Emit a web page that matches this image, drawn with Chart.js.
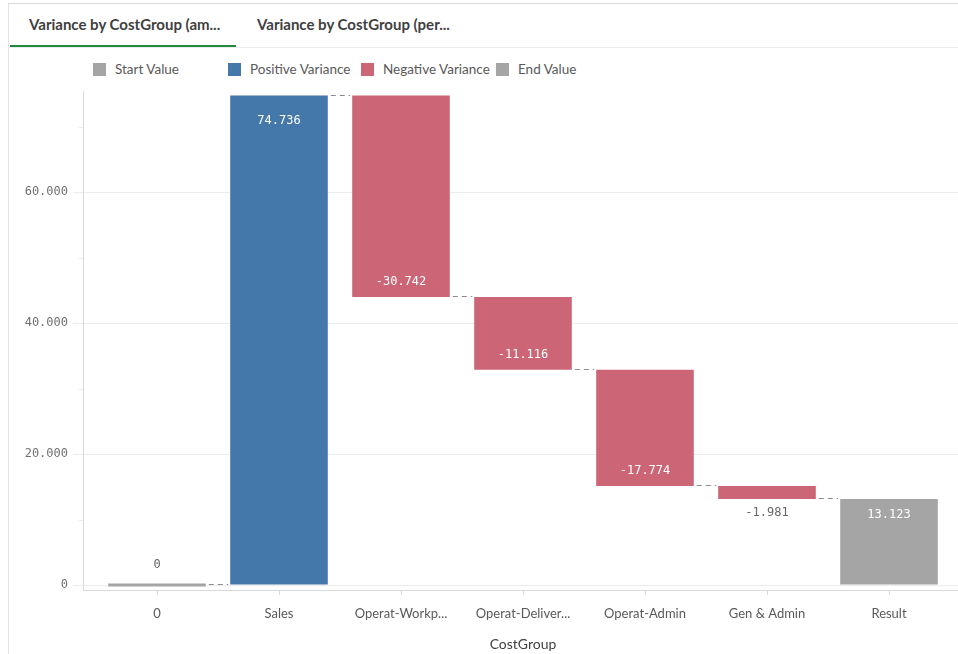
<!DOCTYPE html>
<html>
<head>
<meta charset="utf-8">
<script src="https://cdn.jsdelivr.net/npm/chart.js@4"></script>
<style>
  body { margin: 0; width: 958px; height: 654px; overflow: hidden; background: #fff; font-family: Lato, "Noto Sans", sans-serif; position: relative; }
  #frame { position: absolute; left: 8px; top: 3px; width: 960px; height: 660px; border-left: 1px solid #e2e2e2; border-top: 1px solid #dcdcdc; }
  .tab { position: absolute; top: 15px; font-size: 15px; font-weight: bold; color: #404040; white-space: nowrap; }
  #tabline { position: absolute; left: 8px; top: 47px; width: 950px; height: 1px; background: #ececec; }
  #tabactive { position: absolute; left: 10px; top: 45px; width: 226px; height: 2px; background: #1e8a3e; }
  .leg { position: absolute; top: 61px; font-size: 13.5px; color: #595959; white-space: nowrap; }
  .leg i { display: inline-block; width: 13px; height: 13px; vertical-align: -2px; margin-right: 9px; }
  #wrap { position: absolute; left: 0; top: 79px; width: 958px; height: 575px; }
</style>
</head>
<body>
<div id="frame"></div>
<div class="tab" style="left:29px">Variance by CostGroup (am...</div>
<div class="tab" style="left:257px">Variance by CostGroup (per...</div>
<div id="tabline"></div>
<div id="tabactive"></div>
<div id="legend"></div>
<div id="wrap"><canvas id="waterfall" width="958" height="575"></canvas></div>
<script>
// === Datos ===
const categories = ['0', 'Sales', 'Operat-Workp...', 'Operat-Deliver...', 'Operat-Admin', 'Gen & Admin', 'Result'];
const startValue = 0;
const variances = [74736, -30742, -11116, -17774, -1981];
const endValue = 13123;
const yTicks = [0, 20000, 40000, 60000];
const yMinorTicks = [10000, 30000, 50000, 70000];
const seriesNames = ['Start Value', 'Positive Variance', 'Negative Variance', 'End Value'];
const seriesColors = ['#a5a5a5', '#4477aa', '#cc6677', '#a5a5a5'];
const legendLeft = [93, 228, 361, 496];

// leyenda
document.getElementById('legend').innerHTML = seriesNames.map((n, i) =>
  `<div class="leg" style="left:${legendLeft[i]}px"><i style="background:${seriesColors[i]}"></i>${n}</div>`).join('');

// rangos flotantes del waterfall
const startData = categories.map(() => null);
const posData = categories.map(() => null);
const negData = categories.map(() => null);
const endData = categories.map(() => null);
const labels = [];
const levels = [startValue];
startData[0] = [startValue, startValue];
labels.push(startValue);
let running = startValue;
variances.forEach((v, k) => {
  const i = k + 1;
  const next = running + v;
  if (v >= 0) posData[i] = [running, next]; else negData[i] = [next, running];
  labels.push(v);
  running = next;
  levels.push(running);
});
endData[categories.length - 1] = [0, endValue];
labels.push(endValue);

const fmt = v => v.toLocaleString('de-DE');
const monoFont = '12px "DejaVu Sans Mono", monospace';

const extras = {
  id: 'extras',
  afterDraw(chart) {
    const { ctx, chartArea } = chart;
    const y = chart.scales.y;
    ctx.save();
    // ejes
    ctx.strokeStyle = '#d9d9d9';
    ctx.lineWidth = 1;
    ctx.beginPath();
    ctx.moveTo(83.5, chartArea.top);
    ctx.lineTo(83.5, chartArea.bottom);
    ctx.moveTo(83, chartArea.bottom + 0.5);
    ctx.lineTo(chart.width, chartArea.bottom + 0.5);
    ctx.stroke();
    // ticks menores
    ctx.strokeStyle = '#e0e0e0';
    ctx.beginPath();
    yMinorTicks.forEach(t => {
      const py = Math.round(y.getPixelForValue(t)) + 0.5;
      ctx.moveTo(79, py); ctx.lineTo(83, py);
    });
    // grid hasta el borde
    ctx.strokeStyle = '#ececec';
    yTicks.forEach(t => {
      const py = Math.round(y.getPixelForValue(t)) + 0.5;
      ctx.moveTo(chartArea.right, py); ctx.lineTo(chart.width, py);
    });
    ctx.stroke();

    // barras por categoria
    const bars = categories.map((c, i) => {
      for (let d = 0; d < chart.data.datasets.length; d++) {
        if (chart.data.datasets[d].data[i] !== null) return chart.getDatasetMeta(d).data[i];
      }
    });

    // conectores
    ctx.strokeStyle = '#8c8c8c';
    ctx.setLineDash([5, 4]);
    ctx.beginPath();
    for (let i = 0; i < bars.length - 1; i++) {
      const a = bars[i], b = bars[i + 1];
      const py = Math.round(y.getPixelForValue(levels[i])) - 0.5;
      ctx.moveTo(a.x + a.width / 2 + 3, py);
      ctx.lineTo(b.x - b.width / 2 - 2, py);
    }
    ctx.stroke();
    ctx.setLineDash([]);

    // etiquetas
    ctx.font = monoFont;
    ctx.textAlign = 'center';
    ctx.textBaseline = 'middle';
    bars.forEach((el, i) => {
      const top = Math.min(el.y, el.base), bottom = Math.max(el.y, el.base);
      const h = bottom - top;
      const txt = fmt(labels[i]);
      let ty, color = '#ffffff';
      if (i === 0) { ty = top - 19; color = '#666666'; }
      else if (labels[i] < 0 && i < bars.length - 1) {
        if (h > 30) ty = bottom - 15;
        else { ty = bottom + 14; color = '#666666'; }
      } else {
        ty = Math.max(top, chartArea.top + 14) + 16;
      }
      ctx.fillStyle = color;
      ctx.fillText(txt, el.x, ty);
    });
    ctx.restore();
  }
};

new Chart(document.getElementById('waterfall'), {
  type: 'bar',
  data: {
    labels: categories,
    datasets: [startData, posData, negData, endData].map((d, i) => ({
      label: seriesNames[i],
      data: d,
      backgroundColor: seriesColors[i],
      grouped: false,
      barPercentage: 0.8,
      categoryPercentage: 1,
      minBarLength: 3
    }))
  },
  options: {
    responsive: false,
    animation: false,
    devicePixelRatio: 1,
    layout: { padding: { top: 0, right: 8, left: 0, bottom: 0 } },
    plugins: { legend: { display: false }, tooltip: { enabled: false } },
    scales: {
      x: {
        offset: true,
        grid: { drawOnChartArea: false, offset: false, tickLength: 5, color: '#d9d9d9' },
        border: { display: false },
        ticks: { font: { family: 'Lato', size: 13 }, color: '#595959', padding: 11, maxRotation: 0, autoSkip: false },
        title: { display: true, text: 'CostGroup', font: { family: 'Lato', size: 14 }, color: '#404040', padding: { top: 0, bottom: 1 } },
        afterFit: s => { s.height = 64; }
      },
      y: {
        min: -760,
        max: 75400,
        afterBuildTicks: s => { s.ticks = yTicks.map(v => ({ value: v })); },
        grid: { color: '#ececec', tickLength: 23 },
        border: { display: false },
        ticks: { font: { family: 'DejaVu Sans Mono', size: 12 }, color: '#707070', padding: 5, callback: v => fmt(v) },
        afterFit: s => { s.width = 96; }
      }
    }
  },
  plugins: [extras]
});
</script>
</body>
</html>
